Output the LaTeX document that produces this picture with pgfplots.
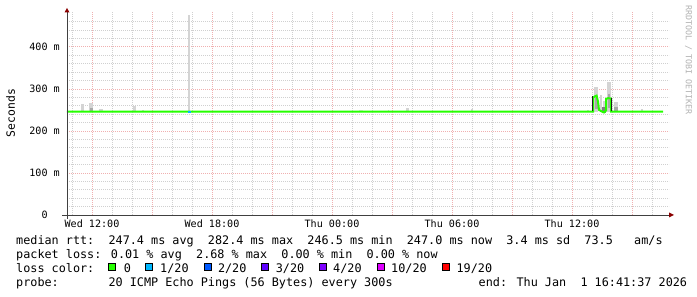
\documentclass[border=0pt]{standalone}
\usepackage{pgfplots}
\pgfplotsset{compat=1.18}
\usepackage{fontspec}
\setmainfont{DejaVu Sans Mono}
\newfontfamily\mono{DejaVu Sans Mono}
\newcommand\legfont{\mono\fontsize{11.8}{14}\selectfont}
\newcommand\ticfont{\mono\fontsize{10.1}{12}\selectfont}
\definecolor{gridc}{HTML}{D0D0D0}
\definecolor{mgridc}{HTML}{F0B0B0}
\definecolor{axisc}{HTML}{404040}
\definecolor{arrowc}{HTML}{8B0000}
\definecolor{smokeXL}{HTML}{E6E6E6}
\definecolor{smokeL}{HTML}{D4D4D4}
\definecolor{smokeM}{HTML}{A8A8A8}
\definecolor{smokeD}{HTML}{202020}
\definecolor{loss0}{HTML}{26FF00}
\definecolor{loss1}{HTML}{00B8FF}
\definecolor{loss2}{HTML}{0059FF}
\definecolor{loss3}{HTML}{5E00FF}
\definecolor{loss4}{HTML}{7E00FF}
\definecolor{loss10}{HTML}{DD00FF}
\definecolor{loss19}{HTML}{FF0000}
% smoke bar: x, low, length, width(pt), colour
\newcommand{\smoke}[5]{\addplot[draw=none, mark=none, forget plot,
  error bars/.cd, y dir=plus, y explicit, error mark=none,
  error bar style={draw=#5, line width=#4pt}]
  coordinates {(#1,#2) +- (0,#3)};}
\begin{document}
\begin{tikzpicture}[x=1pt,y=1pt]
\path[use as bounding box, fill=white] (0,0) rectangle (697,297);
\begin{axis}[
  at={(67pt,82pt)}, anchor=south west,
  scale only axis, width=602pt, height=203pt,
  xmin=10.75, xmax=40.85, ymin=0, ymax=483,
  axis line style={draw=none},
  tick style={draw=none},
  xtick={12,15,...,39},
  xticklabels={Wed 12:00,,Wed 18:00,,Thu 00:00,,Thu 06:00,,Thu 12:00,},
  minor xtick={11,13,14,16,17,19,20,22,23,25,26,28,29,31,32,34,35,37,38,40},
  ytick={0,100,200,300,400},
  yticklabels={0\phantom{\ m},100 m,200 m,300 m,400 m},
  minor ytick={20,40,60,80,120,140,160,180,220,240,260,280,320,340,360,380,420,440,460},
  grid=both,
  major grid style={draw=mgridc, line width=0.8pt, dash pattern=on 1pt off 1pt},
  minor grid style={draw=gridc, line width=0.8pt, dash pattern=on 1pt off 1pt},
  xticklabel style={font=\ticfont, anchor=base, inner sep=0pt, yshift=-12.7pt},
  yticklabel style={font=\ticfont, anchor=east, inner sep=0pt, xshift=-7pt},
]
% smoke
\smoke{11.525}{244}{20}{3.5}{smokeL}
\smoke{11.95}{244}{22}{3.7}{smokeL}
\smoke{11.95}{244}{10}{3.0}{smokeM}
\smoke{12.45}{244}{8}{3.5}{smokeL}
\smoke{14.115}{244}{16}{3.3}{smokeL}
\smoke{14.535}{244}{6}{1.7}{smokeL}
\smoke{16.85}{244}{232}{1.7}{smokeL}
\smoke{25.45}{244}{6}{3.7}{smokeXL}
\smoke{26.8}{244}{5}{1.0}{smokeL}
\smoke{27.765}{244}{10}{2.7}{smokeL}
\smoke{31.0}{244}{9}{2.0}{smokeL}
\smoke{36.8}{244}{6}{1.7}{smokeL}
\smoke{38.2}{244}{26}{3.7}{smokeL}
\smoke{38.2}{244}{13}{3.7}{smokeM}
\smoke{39.5}{244}{8}{2.0}{smokeL}
\smoke{37.2}{244}{61}{4.5}{smokeL}
\smoke{37.45}{244}{42}{2.5}{smokeL}
\smoke{37.65}{244}{28}{4.3}{smokeL}
\smoke{37.85}{244}{73}{4.3}{smokeL}
\smoke{37.2}{252}{30}{3.0}{smokeM}
\smoke{37.85}{254}{34}{2.5}{smokeM}
\smoke{37.6}{242}{16}{4.0}{gray}
% median rtt
\addplot[draw=loss0, line width=2pt, mark=none] coordinates {
(10.75,246) (37.06,246) (37.06,279) (37.13,282) (37.23,284) (37.3,270)
(37.35,250) (37.5,246) (37.6,244) (37.7,249) (37.7,276) (37.8,278)
(37.95,277) (37.96,246) (40.55,246)};
\addplot[draw=loss1, line width=2pt, mark=none] coordinates {(16.785,246) (16.935,246)};
\smoke{37.03}{247}{35}{1.2}{smokeD}
\smoke{37.99}{247}{31}{1.2}{smokeD}
\end{axis}
% axes
\draw[axisc, line width=0.9pt] (62,82) -- (669,82);
\draw[axisc, line width=0.9pt] (67,78) -- (67,284.5);
\fill[arrowc] (669,79.5) -- (674,82) -- (669,84.5) -- cycle;
\fill[arrowc] (64.5,284.5) -- (67,289) -- (69.5,284.5) -- cycle;
% labels
\node[rotate=90, font=\mono\fontsize{11.4}{13}\selectfont] at (10.5,184) {Seconds};
\node[rotate=-90, font=\mono\fontsize{8.3}{10}\selectfont, text=black!30] at (688.5,237) {RRDTOOL / TOBI OETIKER};
% legend
\begin{scope}[every node/.style={anchor=base west, inner sep=0pt, font=\legfont}]
\node at (16,52.5) {median rtt:\ \ 247.4 ms avg\ \ 282.4 ms max\ \ 246.5 ms min\ \ 247.0 ms now\ \ 3.4 ms sd\ \ 73.5\ \ \ am/s};
\node at (16,38.4) {packet loss: 0.01 \% avg\ \ 2.68 \% max\ \ 0.00 \% min\ \ 0.00 \% now};
\node at (16,24.3) {loss color:};
\node at (16,10.2) {probe:};
\node at (108.3,10.2) {20 ICMP Echo Pings (56 Bytes) every 300s};
\node at (478.5,10.2) {end: Thu Jan\ \ 1 16:41:37 2026};
\node at (123.6,24.3) {0};
\node at (160,24.3) {1/20};
\node at (217.8,24.3) {2/20};
\node at (275.6,24.3) {3/20};
\node at (333,24.3) {4/20};
\node at (391,24.3) {10/20};
\node at (456.4,24.3) {19/20};
\end{scope}
\foreach \xx/\cc in {108/loss0,145.3/loss1,203.6/loss2,261/loss3,319/loss4,377/loss10,441.8/loss19}
  \filldraw[fill=\cc, draw=black, line width=0.8pt] (\xx+0.4,26.2) rectangle ++(7,7);
\end{tikzpicture}
\end{document}
